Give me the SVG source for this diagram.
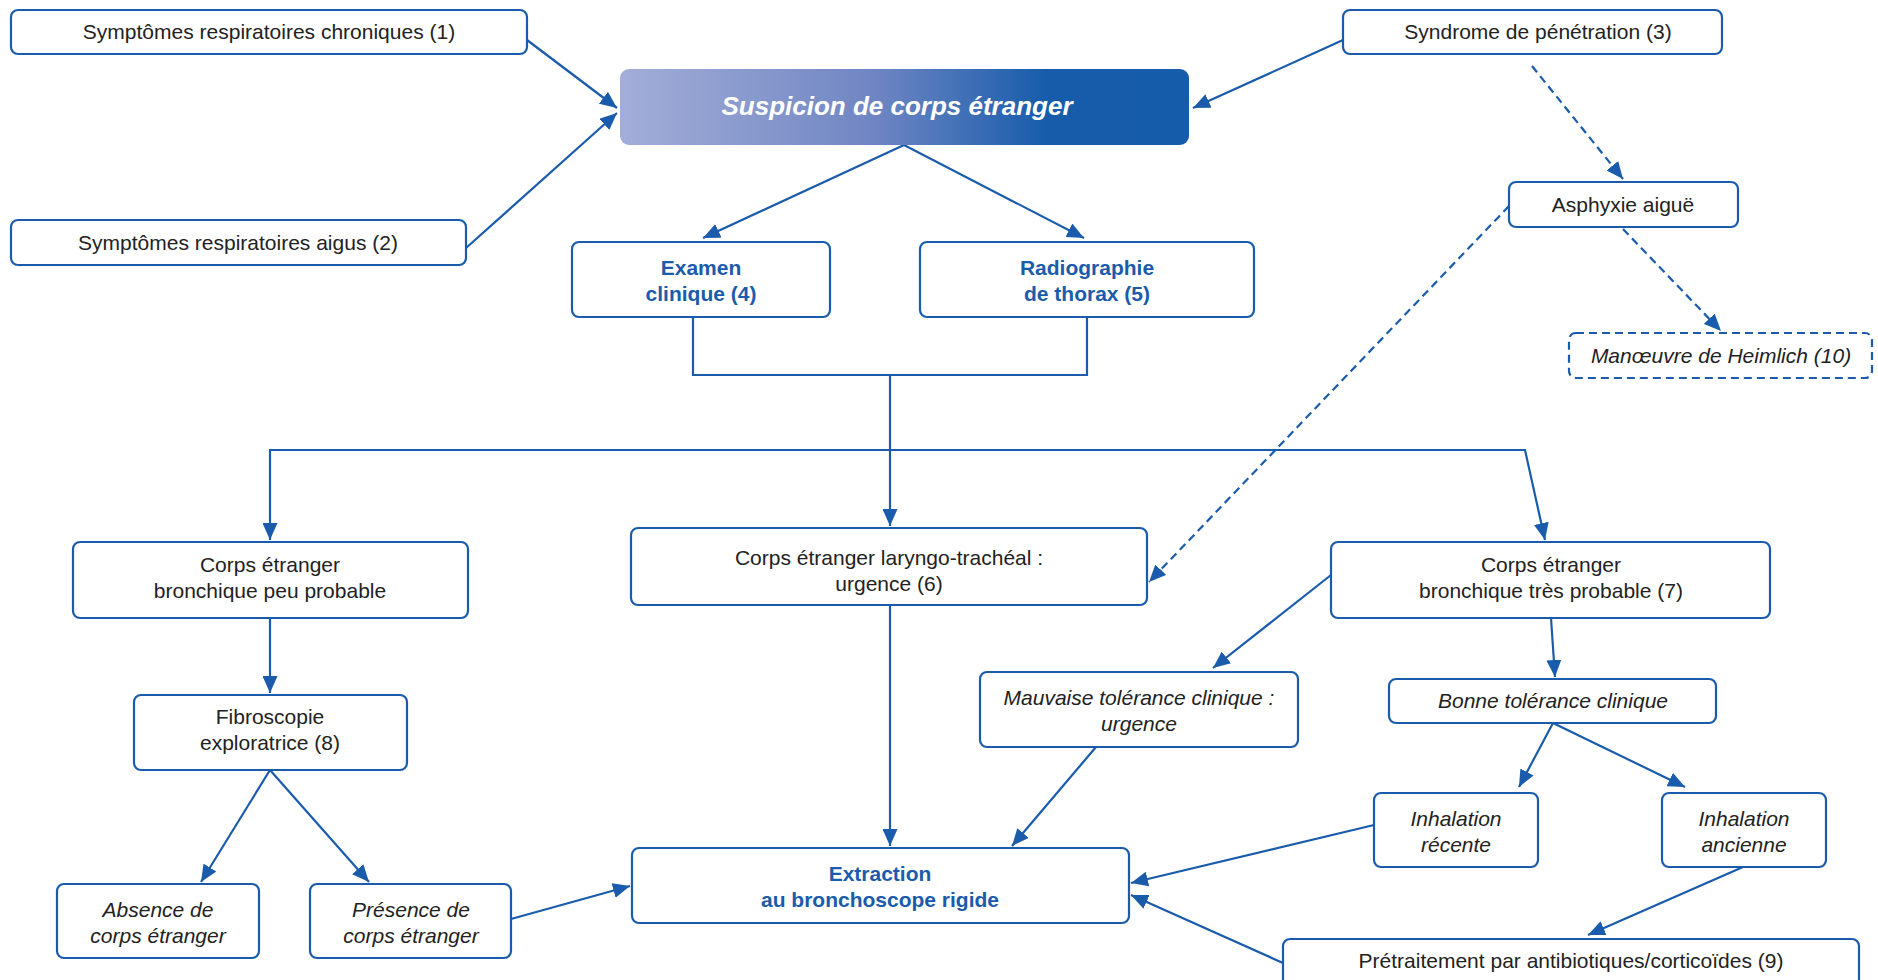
<svg xmlns="http://www.w3.org/2000/svg" width="1878" height="980" viewBox="0 0 1878 980">
<defs>
<linearGradient id="g" x1="0" y1="0" x2="1" y2="0">
<stop offset="0" stop-color="#a3aed8"/>
<stop offset="0.45" stop-color="#6f85c2"/>
<stop offset="0.75" stop-color="#165cab"/>
<stop offset="1" stop-color="#155cab"/>
</linearGradient>
<marker id="a" markerUnits="userSpaceOnUse" markerWidth="17" markerHeight="15" refX="17" refY="7.5" orient="auto">
<path d="M0,0 L17,7.5 L0,15 Z" fill="#1a5cab"/>
</marker>
<style>
.b{fill:#fff;stroke:#1a5cab;stroke-width:2.2}
.d{stroke-dasharray:8 5}
.t{font-family:"Liberation Sans",Arial,sans-serif;font-size:21px;fill:#222;text-anchor:middle}
.i{font-style:italic}
.bl{fill:#1a5cab;font-weight:bold}
.c path{fill:none;stroke:#1a5cab;stroke-width:2.2}
.c .d{stroke-dasharray:8 5}
</style>
</defs>
<g class="c" id="connectors">
<path d="M527,40 L617,108" marker-end="url(#a)"/>
<path d="M466,248 L617,113" marker-end="url(#a)"/>
<path d="M1343,40 L1193,108" marker-end="url(#a)"/>
<path d="M904,145 L703,238" marker-end="url(#a)"/>
<path d="M904,145 L1084,238" marker-end="url(#a)"/>
<path class="d" d="M1532,66 L1623,179" marker-end="url(#a)"/>
<path class="d" d="M1623,229 L1721,331" marker-end="url(#a)"/>
<path class="d" d="M1509,206 L1149,582" marker-end="url(#a)"/>
<path d="M693,317 V375 H1087 V317"/>
<path d="M890,375 V526" marker-end="url(#a)"/>
<path d="M890,450 H270 V540" marker-end="url(#a)"/>
<path d="M890,450 H1525 L1545,540" marker-end="url(#a)"/>
<path d="M1331,575 L1213,668" marker-end="url(#a)"/>
<path d="M1551,618 L1555,677" marker-end="url(#a)"/>
<path d="M1553,723 L1519,787" marker-end="url(#a)"/>
<path d="M1553,723 L1685,787" marker-end="url(#a)"/>
<path d="M1374,825 L1131,883" marker-end="url(#a)"/>
<path d="M1743,867 L1588,935" marker-end="url(#a)"/>
<path d="M1283,963 L1131,895" marker-end="url(#a)"/>
<path d="M1096,747 L1012,846" marker-end="url(#a)"/>
<path d="M890,605 V846" marker-end="url(#a)"/>
<path d="M270,618 V693" marker-end="url(#a)"/>
<path d="M270,770 L201,882" marker-end="url(#a)"/>
<path d="M270,770 L369,882" marker-end="url(#a)"/>
<path d="M511,919 L630,886" marker-end="url(#a)"/>
</g>
<g id="n1"><rect class="b" x="11" y="10" width="516" height="44" rx="7"/><text class="t" x="269" y="39">Symptômes respiratoires chroniques (1)</text></g>
<g id="n2"><rect class="b" x="11" y="220" width="455" height="45" rx="7"/><text class="t" x="238" y="250">Symptômes respiratoires aigus (2)</text></g>
<g id="main"><rect x="620" y="69" width="569" height="76" rx="9" fill="url(#g)"/><text class="t i" x="897" y="115" style="font-size:26px;font-weight:bold;fill:#fff">Suspicion de corps étranger</text></g>
<g id="n3"><rect class="b" x="1343" y="10" width="379" height="44" rx="7"/><text class="t" x="1538" y="39">Syndrome de pénétration (3)</text></g>
<g id="asphyxie"><rect class="b" x="1509" y="182" width="229" height="45" rx="7"/><text class="t" x="1623" y="212">Asphyxie aiguë</text></g>
<g id="heimlich"><rect class="b d" x="1569" y="333" width="303" height="45" rx="7"/><text class="t i" x="1721" y="363">Manœuvre de Heimlich (10)</text></g>
<g id="examen"><rect class="b" x="572" y="242" width="258" height="75" rx="7"/><text class="t bl" x="701" y="275">Examen</text><text class="t bl" x="701" y="301">clinique (4)</text></g>
<g id="radio"><rect class="b" x="920" y="242" width="334" height="75" rx="7"/><text class="t bl" x="1087" y="275">Radiographie</text><text class="t bl" x="1087" y="301">de thorax (5)</text></g>
<g id="peu"><rect class="b" x="73" y="542" width="395" height="76" rx="7"/><text class="t" x="270" y="572">Corps étranger</text><text class="t" x="270" y="598">bronchique peu probable</text></g>
<g id="laryngo"><rect class="b" x="631" y="528" width="516" height="77" rx="7"/><text class="t" x="889" y="565">Corps étranger laryngo-trachéal :</text><text class="t" x="889" y="591">urgence (6)</text></g>
<g id="tres"><rect class="b" x="1331" y="542" width="439" height="76" rx="7"/><text class="t" x="1551" y="572">Corps étranger</text><text class="t" x="1551" y="598">bronchique très probable (7)</text></g>
<g id="fibro"><rect class="b" x="134" y="695" width="273" height="75" rx="7"/><text class="t" x="270" y="724">Fibroscopie</text><text class="t" x="270" y="750">exploratrice (8)</text></g>
<g id="mauvaise"><rect class="b" x="980" y="672" width="318" height="75" rx="7"/><text class="t i" x="1139" y="705">Mauvaise tolérance clinique :</text><text class="t i" x="1139" y="731">urgence</text></g>
<g id="bonne"><rect class="b" x="1389" y="679" width="327" height="44" rx="7"/><text class="t i" x="1553" y="708">Bonne tolérance clinique</text></g>
<g id="absence"><rect class="b" x="57" y="884" width="202" height="74" rx="7"/><text class="t i" x="158" y="917">Absence de</text><text class="t i" x="158" y="943">corps étranger</text></g>
<g id="presence"><rect class="b" x="310" y="884" width="201" height="74" rx="7"/><text class="t i" x="411" y="917">Présence de</text><text class="t i" x="411" y="943">corps étranger</text></g>
<g id="extraction"><rect class="b" x="632" y="848" width="497" height="75" rx="7"/><text class="t bl" x="880" y="881">Extraction</text><text class="t bl" x="880" y="907">au bronchoscope rigide</text></g>
<g id="recente"><rect class="b" x="1374" y="793" width="164" height="74" rx="7"/><text class="t i" x="1456" y="826">Inhalation</text><text class="t i" x="1456" y="852">récente</text></g>
<g id="ancienne"><rect class="b" x="1662" y="793" width="164" height="74" rx="7"/><text class="t i" x="1744" y="826">Inhalation</text><text class="t i" x="1744" y="852">ancienne</text></g>
<g id="pretraitement"><rect class="b" x="1283" y="939" width="576" height="52" rx="7"/><text class="t" x="1571" y="968">Prétraitement par antibiotiques/corticoïdes (9)</text></g>
</svg>
